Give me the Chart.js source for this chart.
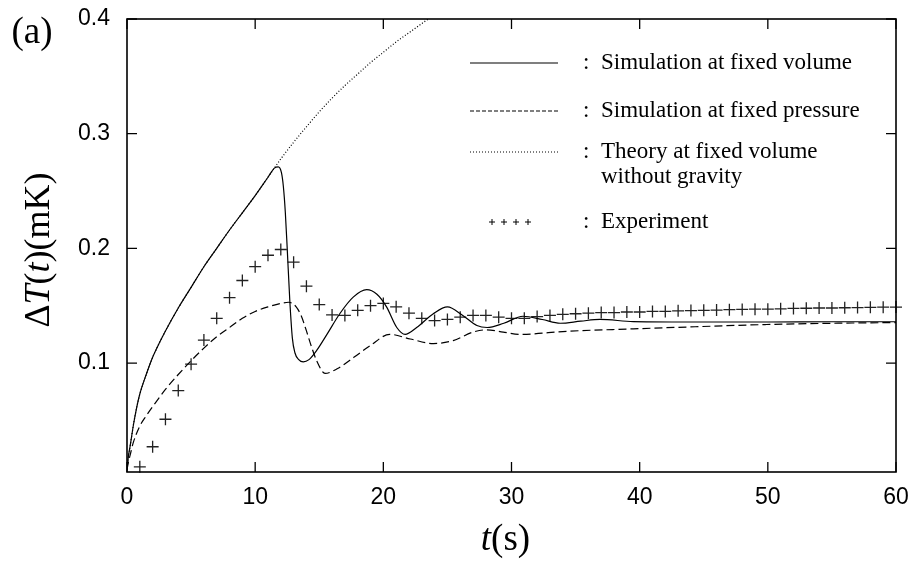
<!DOCTYPE html>
<html>
<head>
<meta charset="utf-8">
<script src="https://cdn.jsdelivr.net/npm/chart.js@4.4.1/dist/chart.umd.min.js"></script>
<style>
body { margin: 0; background: #fff; }
#wrap { width: 912px; height: 569px; }
</style>
</head>
<body>
<div id="wrap"><canvas id="myChart"></canvas></div>
<script>
var xTicks = [0, 10, 20, 30, 40, 50, 60];
var yTicks = [0.1, 0.2, 0.3, 0.4];

// simulation at fixed volume (solid)
var volT = [0, 0.1, 0.25, 0.5, 0.75, 1, 1.5, 2, 2.5, 3, 4, 5, 6, 7, 8, 9, 10, 11, 11.5, 11.8,
    12.05, 12.2, 12.35, 12.5, 12.7, 12.9, 13.1, 13.4, 13.75, 14.2, 14.8, 15.6, 16.6, 17.65, 18.7,
    19.5, 20.25, 21.05, 21.7, 22.6, 23.9, 25, 26.2, 27.3, 28.1, 29.4, 30.9, 32.4, 33.8, 35.4,
    36.9, 39.5, 45, 50, 55, 60];
var volV = [0.007, 0.018, 0.028, 0.046, 0.061, 0.073, 0.09, 0.105, 0.117, 0.128, 0.148, 0.166,
    0.184, 0.2, 0.216, 0.231, 0.246, 0.262, 0.27, 0.271, 0.266, 0.254, 0.232, 0.2, 0.155, 0.122,
    0.109, 0.103, 0.101, 0.103, 0.111, 0.125, 0.143, 0.1575, 0.164, 0.16, 0.149, 0.131, 0.125,
    0.131, 0.143, 0.149, 0.1415, 0.1327, 0.131, 0.1347, 0.1408, 0.138, 0.1347, 0.1365, 0.138,
    0.1362, 0.1358, 0.1358, 0.136, 0.136];

// simulation at fixed pressure (dashed)
var presT = [0, 0.1, 0.25, 0.5, 1, 1.5, 2, 3, 4, 5, 6, 7, 8, 9, 10, 11, 12, 12.6, 13.2, 13.6,
    14, 14.4, 14.8, 15.45, 16.4, 17.7, 18.95, 20.5, 22.1, 23.9, 25.45, 27, 28.05, 29.35, 30.65,
    34.3, 39.5, 44.7, 49.9, 55.1, 60];
var presV = [0.007, 0.013, 0.02, 0.031, 0.045, 0.054, 0.062, 0.077, 0.09, 0.102, 0.113, 0.123,
    0.131, 0.139, 0.145, 0.149, 0.152, 0.153, 0.149, 0.141, 0.128, 0.114, 0.102, 0.091, 0.095,
    0.105, 0.115, 0.125, 0.121, 0.117, 0.1196, 0.127, 0.129, 0.127, 0.125, 0.1277, 0.1298,
    0.1318, 0.1336, 0.1347, 0.1353];

// theory at fixed volume without gravity (dotted)
var theoT = [0, 0.1, 0.25, 0.5, 0.75, 1, 1.5, 2, 2.5, 3, 4, 5, 6, 7, 8, 9, 10, 11, 11.5, 12,
    13, 14, 15, 16, 17, 18, 19, 20, 21, 22, 23, 23.5];
var theoV = [0.007, 0.018, 0.028, 0.046, 0.061, 0.073, 0.09, 0.105, 0.117, 0.128, 0.148, 0.166,
    0.184, 0.2, 0.216, 0.231, 0.246, 0.262, 0.27, 0.278, 0.2925, 0.306, 0.319, 0.331, 0.342,
    0.352, 0.362, 0.371, 0.38, 0.388, 0.396, 0.4];

// experiment (+)
var expT = [1, 2, 3, 4, 5, 6, 7, 8, 9, 10, 11, 12, 13, 14, 15, 16, 17, 18, 19, 20,
    21, 22, 23, 24, 25, 26, 27, 28, 29, 30, 31, 32, 33, 34, 35, 36, 37, 38, 39, 40,
    41, 42, 43, 44, 45, 46, 47, 48, 49, 50, 51, 52, 53, 54, 55, 56, 57, 58, 59, 60];
var expV = [0.0095, 0.027, 0.051, 0.076, 0.099, 0.12, 0.139, 0.157, 0.172, 0.184, 0.194, 0.199,
    0.188, 0.167, 0.151, 0.142, 0.1415, 0.146, 0.15, 0.152, 0.149, 0.1435, 0.139, 0.137, 0.138,
    0.14, 0.1415, 0.1415, 0.14, 0.139, 0.139, 0.1405, 0.1415, 0.1425, 0.143, 0.1435, 0.144,
    0.144, 0.1445, 0.1445, 0.145, 0.145, 0.1455, 0.1458, 0.146, 0.1462, 0.1465, 0.1468, 0.147,
    0.147, 0.1473, 0.1476, 0.1478, 0.148, 0.148, 0.1482, 0.1484, 0.1486, 0.1487, 0.1488];

var legendNames = ['Simulation at fixed volume', 'Simulation at fixed pressure',
    'Theory at fixed volume', 'without gravity', 'Experiment'];

function pts(xs, ys) {
    return xs.map(function(x, i) { return {x: x, y: ys[i]}; });
}

function lineSet(label, xs, ys, dash) {
    return {
        label: label,
        data: pts(xs, ys),
        showLine: true,
        borderColor: '#000',
        borderWidth: 1.2,
        borderDash: dash,
        pointRadius: 0,
        cubicInterpolationMode: 'monotone',
        fill: false
    };
}

// text with some italic parts, centred on (x, y)
function richText(ctx, parts, x, y, size) {
    var total = 0;
    parts.forEach(function(p) {
        ctx.font = (p.it ? 'italic ' : '') + size + 'px "Liberation Serif"';
        p.w = ctx.measureText(p.t).width;
        total += p.w;
    });
    var cx = x - total / 2;
    ctx.textAlign = 'left';
    ctx.textBaseline = 'middle';
    parts.forEach(function(p) {
        ctx.font = (p.it ? 'italic ' : '') + size + 'px "Liberation Serif"';
        ctx.fillText(p.t, cx, y);
        cx += p.w;
    });
}

// no extra room for the tick labels, the plot box is fixed by layout padding
function noScalePadding(s) {
    s.paddingTop = 0; s.paddingBottom = 0; s.paddingLeft = 0; s.paddingRight = 0;
}

var framePlugin = {
    id: 'frame',
    afterDraw: function(chart) {
        var ctx = chart.ctx, a = chart.chartArea;
        var xs = chart.scales.x, ys = chart.scales.y;
        ctx.save();
        ctx.strokeStyle = '#000';
        ctx.fillStyle = '#000';
        ctx.lineWidth = 1.6;
        ctx.strokeRect(a.left, a.top, a.right - a.left, a.bottom - a.top);

        // inward ticks, mirrored
        ctx.lineWidth = 1.3;
        ctx.beginPath();
        xTicks.forEach(function(v) {
            var px = xs.getPixelForValue(v);
            ctx.moveTo(px, a.bottom); ctx.lineTo(px, a.bottom - 10);
            ctx.moveTo(px, a.top); ctx.lineTo(px, a.top + 10);
        });
        yTicks.forEach(function(v) {
            var py = ys.getPixelForValue(v);
            ctx.moveTo(a.left, py); ctx.lineTo(a.left + 10, py);
            ctx.moveTo(a.right, py); ctx.lineTo(a.right - 10, py);
        });
        ctx.stroke();

        // axis titles and panel tag
        richText(ctx, [{t: 't', it: true}, {t: '(s)'}], (a.left + a.right) / 2 - 6, 540, 37);
        ctx.save();
        ctx.translate(40, 250);
        ctx.rotate(-Math.PI / 2);
        richText(ctx, [{t: '\u0394'}, {t: 'T', it: true}, {t: '('}, {t: 't', it: true}, {t: ')(mK)'}], 0, 0, 36);
        ctx.restore();
        richText(ctx, [{t: '(a)'}], 32, 33, 37);

        // legend
        var lx0 = 470, lx1 = 558, colonX = 583, textX = 601;
        var rows = [63, 111, 152, 222];
        var dashes = [[], [4, 2], [1, 2]];
        ctx.lineWidth = 1.2;
        for (var i = 0; i < 3; i++) {
            ctx.setLineDash(dashes[i]);
            ctx.beginPath();
            ctx.moveTo(lx0, rows[i]);
            ctx.lineTo(lx1, rows[i]);
            ctx.stroke();
        }
        ctx.setLineDash([]);
        ctx.lineWidth = 1;
        [492, 504, 516, 528].forEach(function(px) {
            ctx.beginPath();
            ctx.moveTo(px - 3, rows[3]); ctx.lineTo(px + 3, rows[3]);
            ctx.moveTo(px, rows[3] - 3); ctx.lineTo(px, rows[3] + 3);
            ctx.stroke();
        });
        ctx.font = '23px "Liberation Serif"';
        ctx.textAlign = 'left';
        ctx.textBaseline = 'middle';
        rows.forEach(function(ry) { ctx.fillText(':', colonX, ry); });
        ctx.fillText(legendNames[0], textX, rows[0]);
        ctx.fillText(legendNames[1], textX, rows[1]);
        ctx.fillText(legendNames[2], textX, rows[2]);
        ctx.fillText(legendNames[3], textX, rows[2] + 25);
        ctx.fillText(legendNames[4], textX, rows[3]);
        ctx.restore();
    }
};

var tickFont = {family: '"Liberation Sans", Arial, sans-serif', size: 23};

var myChart = new Chart(document.getElementById('myChart'), {
    type: 'scatter',
    data: {
        datasets: [
            lineSet(legendNames[0], volT, volV, []),
            lineSet(legendNames[1], presT, presV, [8, 4]),
            lineSet(legendNames[2], theoT, theoV, [1, 2]),
            {
                label: legendNames[4],
                data: pts(expT, expV),
                showLine: false,
                pointStyle: 'cross',
                pointRadius: 6,
                borderColor: '#222',
                borderWidth: 1.3,
                clip: false
            }
        ]
    },
    options: {
        responsive: true,
        maintainAspectRatio: false,
        animation: false,
        layout: {padding: {left: 0, top: 19, right: 16, bottom: 0}},
        plugins: {legend: {display: false}, tooltip: {enabled: false}},
        scales: {
            x: {
                type: 'linear', min: 0, max: 60,
                grid: {display: false, drawTicks: false},
                border: {display: false},
                ticks: {font: tickFont, color: '#000', padding: 12, autoSkip: false, maxRotation: 0,
                    callback: function(v) { return String(v); }},
                afterBuildTicks: function(s) { s.ticks = xTicks.map(function(v) { return {value: v}; }); },
                afterFit: function(s) { s.height = 97; noScalePadding(s); }
            },
            y: {
                type: 'linear', min: 0.005, max: 0.4,
                grid: {display: false, drawTicks: false},
                border: {display: false},
                ticks: {font: tickFont, color: '#000', padding: 17, autoSkip: false,
                    callback: function(v) { return v.toFixed(1); }},
                afterBuildTicks: function(s) { s.ticks = yTicks.map(function(v) { return {value: v}; }); },
                afterFit: function(s) { s.width = 127; noScalePadding(s); }
            }
        }
    },
    plugins: [framePlugin]
});
</script>
</body>
</html>
